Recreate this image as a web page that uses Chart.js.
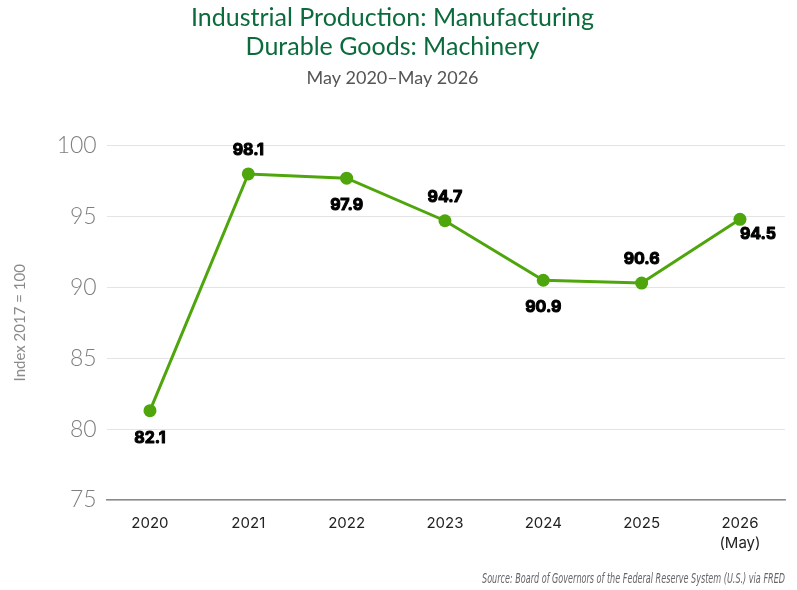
<!DOCTYPE html>
<html>
<head>
<meta charset="utf-8">
<script src="https://cdn.jsdelivr.net/npm/chart.js@4.4.1/dist/chart.umd.min.js"></script>
<style>
  html, body { margin: 0; padding: 0; background: #ffffff; }
  #wrap { width: 797px; height: 590px; position: relative; }
</style>
</head>
<body>
<div id="wrap"><canvas id="c" width="797" height="590"></canvas></div>
<script>
// ---- Data ----
const categories = ['2020', '2021', '2022', '2023', '2024', '2025', ['2026', '(May)']];
const values = [81.3, 98.0, 97.7, 94.7, 90.5, 90.3, 94.8];
const valueLabels = ['82.1', '98.1', '97.9', '94.7', '90.9', '90.6', '94.5'];
const yTicks = [75, 80, 85, 90, 95, 100];

const titleLines = ['Industrial Production: Manufacturing', 'Durable Goods: Machinery'];
const subtitleText = 'May 2020\u2013May 2026';
const yAxisTitle = 'Index 2017 = 100';
const sourceText = 'Source: Board of Governors of the Federal Reserve System (U.S.) via FRED';

// label placement (style, not data)
const labelPlacement = ['below', 'above', 'below', 'above', 'below', 'above', 'belowRight'];

const GREEN = '#4fa60c';

const pointLabelsPlugin = {
  id: 'pointLabels',
  afterDatasetsDraw(chart) {
    const ctx = chart.ctx;
    const meta = chart.getDatasetMeta(0);
    ctx.save();
    ctx.font = 'bold 16px Inter, "DejaVu Sans", sans-serif';
    ctx.fillStyle = '#000000';
    ctx.strokeStyle = '#000000';
    ctx.lineWidth = 1;
    ctx.lineJoin = 'round';
    ctx.textAlign = 'center';
    ctx.textBaseline = 'middle';
    meta.data.forEach((pt, i) => {
      let dx = 0, dy = 0;
      const p = labelPlacement[i];
      if (p === 'below') dy = 27;
      else if (p === 'above') dy = -24;
      else if (p === 'belowRight') { dx = 18; dy = 14.5; }
      ctx.strokeText(valueLabels[i], pt.x + dx, pt.y + dy);
      ctx.fillText(valueLabels[i], pt.x + dx, pt.y + dy);
    });
    ctx.restore();
  }
};

const sourcePlugin = {
  id: 'sourceNote',
  afterDraw(chart) {
    const ctx = chart.ctx;
    ctx.save();
    ctx.font = 'italic 14px "Liberation Sans Narrow", "DejaVu Sans Condensed", "Roboto", sans-serif';
    ctx.fillStyle = '#666666';
    ctx.textAlign = 'right';
    ctx.textBaseline = 'middle';
    const w = ctx.measureText(sourceText).width;
    const target = 303;
    const sx = target / w;
    ctx.translate(785, 579.5);
    ctx.scale(sx, 1);
    ctx.fillText(sourceText, 0, 0);
    ctx.restore();
  }
};

new Chart(document.getElementById('c'), {
  type: 'line',
  data: {
    datasets: [{
      data: values.map((v, i) => ({ x: i, y: v })),
      borderColor: GREEN,
      backgroundColor: GREEN,
      borderWidth: 3,
      pointRadius: 6.5,
      pointHoverRadius: 6.5,
      pointBackgroundColor: GREEN,
      pointBorderColor: GREEN,
      pointBorderWidth: 0,
      tension: 0,
      fill: false
    }]
  },
  options: {
    responsive: false,
    animation: false,
    devicePixelRatio: 1,
    layout: { padding: { left: 0, right: 12, top: 0, bottom: 30 } },
    plugins: {
      legend: { display: false },
      tooltip: { enabled: false },
      title: {
        display: true,
        text: titleLines,
        color: '#0b6b3c',
        font: { family: 'Lato, "Noto Sans", sans-serif', size: 25, weight: '400', lineHeight: 1.16 },
        padding: { top: 3, bottom: 6 }
      },
      subtitle: {
        display: true,
        text: subtitleText,
        color: '#555555',
        font: { family: 'Lato, "Noto Sans", sans-serif', size: 18, weight: '400', lineHeight: 1.2 },
        padding: { top: 0, bottom: 57 }
      }
    },
    scales: {
      x: {
        type: 'linear',
        min: -0.44,
        max: 6.458,
        grid: { display: false },
        border: { display: true, color: '#8a8a8a', width: 1.5 },
        ticks: {
          stepSize: 1,
          includeBounds: false,
          autoSkip: false,
          maxRotation: 0,
          padding: 5,
          color: '#222222',
          font: { family: 'Inter, "Noto Sans", sans-serif', size: 15, weight: '400', lineHeight: 1.333 },
          callback: (v) => categories[v]
        },
        afterFit: (s) => { s.height = 60; }
      },
      y: {
        min: 75,
        max: 100,
        afterBuildTicks: (s) => { s.ticks = yTicks.map(v => ({ value: v })); },
        grid: { color: '#e4e4e4', lineWidth: 1, drawTicks: false },
        border: { display: false },
        ticks: {
          padding: 10,
          color: '#7f7f7f',
          font: { family: 'Lato, "Noto Sans", sans-serif', size: 23, weight: '300' }
        },
        title: {
          display: true,
          text: yAxisTitle,
          color: '#8a8a8a',
          font: { family: 'Lato, "Noto Sans", sans-serif', size: 15, weight: '400', lineHeight: 1.2 },
          padding: { top: 11, bottom: 0 }
        },
        afterFit: (s) => { s.width = 106.7; }
      }
    }
  },
  plugins: [pointLabelsPlugin, sourcePlugin]
});
</script>
</body>
</html>
